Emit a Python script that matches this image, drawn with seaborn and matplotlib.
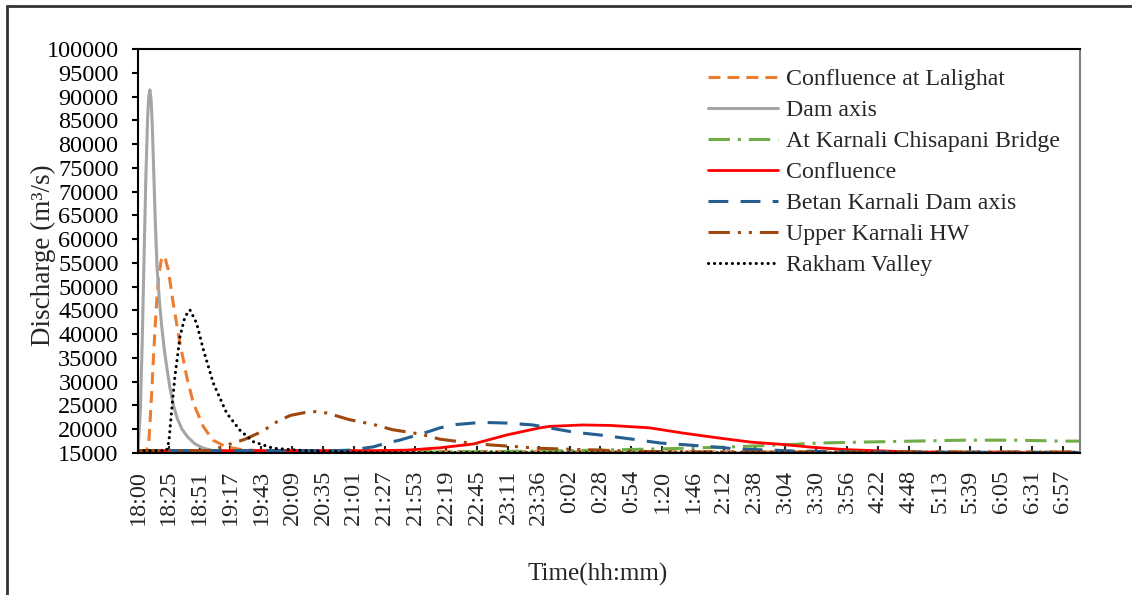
import matplotlib.pyplot as plt
from matplotlib.lines import Line2D
import seaborn as sns
import numpy as np
import pandas as pd

# Time axis labels (every 25.92 min from 18:00)
tick_labels = ["18:00", "18:25", "18:51", "19:17", "19:43", "20:09", "20:35", "21:01",
               "21:27", "21:53", "22:19", "22:45", "23:11", "23:36", "0:02", "0:28",
               "0:54", "1:20", "1:46", "2:12", "2:38", "3:04", "3:30", "3:56",
               "4:22", "4:48", "5:13", "5:39", "6:05", "6:31", "6:57"]
tick_step_min = 25.92
x_end_min = 792

# Hydrographs: minutes after 18:00 and discharge (m3/s)
lalighat_t = [0, 7, 9, 10, 11.5, 13, 14.5, 16, 17.5, 19.5, 21.3, 23, 25.5, 29.5, 35, 41,
              46.5, 55, 63, 74, 85, 100, 300, 792]
lalighat_q = [15400, 15400, 17000, 21000, 27600, 35000, 42000, 48000, 52500, 55500, 56500,
              55800, 53500, 46700, 38500, 31000, 25500, 20500, 17700, 16300, 15800, 15500,
              15300, 15200]

dam_t = [0, 2, 3.5, 5, 6.5, 8, 9, 10, 11, 12, 13, 14.5, 16, 18, 20, 22, 24.5, 27, 30, 33,
         37, 42, 48, 55, 63, 75, 100, 792]
dam_q = [15300, 24000, 38000, 55000, 72000, 85000, 90000, 91400, 89500, 84000, 76000,
         64000, 54000, 47000, 41500, 37000, 32500, 28500, 24800, 22300, 20000, 18300,
         16900, 16000, 15500, 15200, 15050, 15000]

chisapani_t = [0, 250, 338, 388, 445, 500, 542, 573, 610, 652, 694, 736, 778, 792]
chisapani_q = [15200, 15200, 15400, 15600, 15900, 16300, 16700, 17100, 17300, 17500,
               17700, 17700, 17500, 17500]

confluence_t = [0, 200, 226, 254, 282, 310, 338, 346, 374, 397, 430, 458, 487, 515, 542,
                567, 596, 652, 720, 792]
confluence_q = [15500, 15500, 15600, 16100, 16900, 18800, 20300, 20600, 20900, 20800,
                20300, 19200, 18200, 17300, 16800, 16200, 15700, 15200, 15050, 15000]

betan_t = [0, 165, 178, 198, 209, 220, 243, 254, 268, 282, 296, 310, 332, 341, 366, 388,
           416, 439, 462, 483, 506, 534, 554, 620, 792]
betan_q = [15500, 15500, 15600, 16300, 17100, 17700, 19400, 20300, 21000, 21300, 21400,
           21300, 20900, 20500, 19400, 18800, 17900, 17100, 16700, 16300, 15800, 15600,
           15400, 15200, 15100]

upper_t = [0, 60, 66, 80, 90, 97, 104, 109, 117, 128, 142, 149, 159, 178, 198, 214, 237,
           254, 279, 296, 320, 336, 388, 430, 500, 792]
upper_q = [15500, 15500, 15900, 17100, 17900, 18700, 19500, 20300, 21600, 22900, 23600,
           23700, 23400, 22000, 21000, 19900, 19000, 17900, 17100, 16700, 16300, 16000,
           15600, 15300, 15200, 15200]

rakham_t = [0, 24, 26, 28.3, 31, 35.3, 39.5, 43.7, 49.3, 55, 63.3, 74.5, 85.7, 96.7, 113.5,
            140, 200, 792]
rakham_q = [15500, 15500, 17500, 24000, 31000, 39500, 43700, 45100, 42300, 36700, 29700,
            23400, 19800, 17400, 16000, 15500, 15100, 15000]

series = [
    ("Confluence at Lalighat", lalighat_t, lalighat_q, "#ED7D31", (0, (3.9, 2.3)), 2.2, "butt"),
    ("Dam axis", dam_t, dam_q, "#A5A5A5", "-", 2.2, "butt"),
    ("At Karnali Chisapani Bridge", chisapani_t, chisapani_q, "#70AD47", (0, (7, 2.6, 1, 2.6)), 2.2, "butt"),
    ("Confluence", confluence_t, confluence_q, "#FF0000", "-", 2.0, "butt"),
    ("Betan Karnali Dam axis", betan_t, betan_q, "#255E91", (0, (6.5, 4)), 2.2, "butt"),
    ("Upper Karnali HW", upper_t, upper_q, "#9E480E", (0, (7, 2.6, 1, 2.6, 1, 2.6)), 2.2, "butt"),
    ("Rakham Valley", rakham_t, rakham_q, "#000000", (0, (0.05, 1.9)), 2.2, "round"),
]

sns.set_style("white")
plt.rcParams["font.family"] = ["Liberation Serif", "DejaVu Serif"]

fig = plt.figure(figsize=(11.32, 5.95), dpi=100)
ax = fig.add_axes([138 / 1132, 1 - 453 / 595, (1080 - 138) / 1132, (453 - 49) / 595])

for name, t, q, color, ls, lw, cap in series:
    df = pd.DataFrame({"t": t, "q": q})
    sns.lineplot(data=df, x="t", y="q", ax=ax, color=color, linestyle=ls,
                 linewidth=lw, label=name, dash_capstyle=cap)

ax.set_xlim(0, x_end_min)
ax.set_ylim(15000, 100000)
ax.set_yticks(np.arange(15000, 100001, 5000))
ax.set_xticks(np.arange(len(tick_labels)) * tick_step_min)
ax.set_xticklabels(tick_labels, rotation=90, fontsize=17.5)
ax.tick_params(axis="y", labelsize=17.5, direction="out", length=4, width=1.5, pad=10,
               left=True, colors="black")
ax.tick_params(axis="x", direction="in", length=5, width=1.5, pad=12, bottom=True)

for side in ["left", "bottom", "top"]:
    ax.spines[side].set_color("black")
    ax.spines[side].set_linewidth(1.5)
ax.spines["right"].set_color("#808080")
ax.spines["right"].set_linewidth(1.5)

ax.set_xlabel("Time(hh:mm)", fontsize=18)
ax.set_ylabel("Discharge (m³/s)", fontsize=19.5)
ax.xaxis.set_label_coords(0.488, -0.272)
ax.yaxis.set_label_coords(-0.087, 0.49)

ax.legend(loc="upper left", bbox_to_anchor=(0.605, 0.952), frameon=False, fontsize=17.2,
          handlelength=2.95, handletextpad=0.3, labelspacing=0.39, borderpad=0,
          borderaxespad=0)

# outer chart frame (partly cropped in the original)
fig.add_artist(Line2D([7 / 1132, 1], [1 - 6 / 595, 1 - 6 / 595], color="#333333", lw=2,
                      transform=fig.transFigure))
fig.add_artist(Line2D([7 / 1132, 7 / 1132], [0, 1 - 6 / 595], color="#333333", lw=2,
                      transform=fig.transFigure))

plt.savefig("out.png", dpi=100)
